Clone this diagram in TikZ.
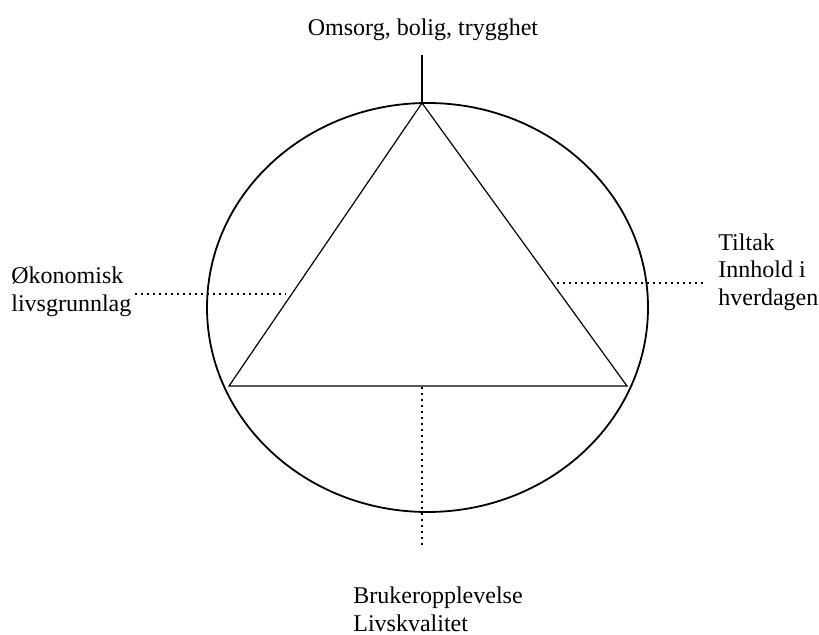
\documentclass[tikz,border=0pt]{standalone}
\usepackage{fontspec}
\setmainfont{Liberation Serif}
\begin{document}
\begin{tikzpicture}[x=0.5pt,y=-0.5pt]
    \tikzstyle{tekst}=[align=left, inner sep=0pt, font=\fontsize{12}{13.8}\selectfont]
    \tikzstyle{prikket}=[line width=0.8pt, dash pattern=on 0.8pt off 2.2pt]
    \useasboundingbox (0,0) rectangle (819,635);
    % sirkel og trekant
    \draw[line width=0.9pt] (427.5,307.5) ellipse [x radius=220.5, y radius=204.5];
    \coordinate (topp) at (422,103);
    \coordinate (venstre) at (229,386);
    \coordinate (hoyre) at (627,386);
    \draw[line width=0.6pt] (topp) -- (venstre) -- (hoyre) -- cycle;
    % tekster
    \node[tekst] (omsorg) at (423,30) {Omsorg, bolig, trygghet};
    \node[tekst, anchor=west] (okonomi) at (11,292) {Økonomisk\\livsgrunnlag};
    \node[tekst, anchor=west] (tiltak) at (718,272) {Tiltak\\Innhold i\\hverdagen};
    \node[tekst, anchor=west] (bruker) at (353,609) {Brukeropplevelse\\Livskvalitet};
    % linjer
    \coordinate (stolpe) at (422,55);
    \draw[line width=0.8pt] (stolpe) -- (topp);
    \coordinate (v1) at (135,294);
    \coordinate (v2) at (286,294);
    \draw[prikket] (v1) -- (v2);
    \coordinate (h1) at (557,283);
    \coordinate (h2) at (706,283);
    \draw[prikket] (h1) -- (h2);
    \coordinate (b1) at (422,387);
    \coordinate (b2) at (422,548);
    \draw[prikket] (b1) -- (b2);
  \end{tikzpicture}
\end{document}
